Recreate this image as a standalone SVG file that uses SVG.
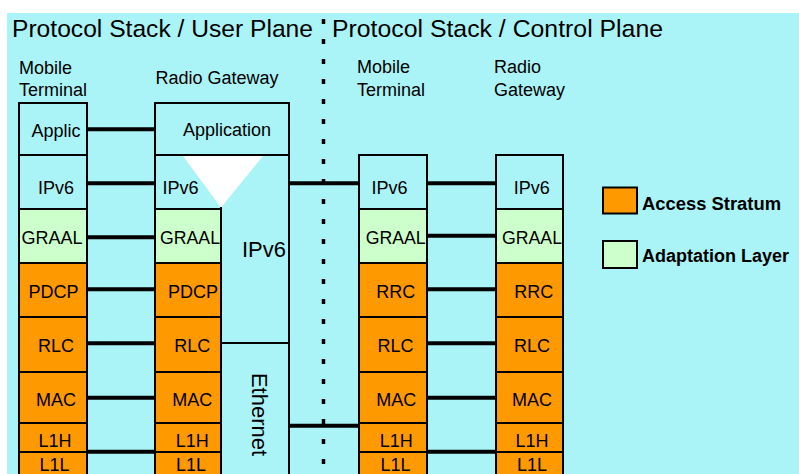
<svg xmlns="http://www.w3.org/2000/svg" width="799" height="474" viewBox="0 0 799 474">
  <style>
    text { font-family: "Liberation Sans", Arial, sans-serif; fill: #000; }
    .title { font-size: 24.6px; }
    .head { font-size: 18px; }
    .lbl { font-size: 18px; text-anchor: middle; }
    .big { font-size: 22px; }
    .leg { font-size: 18px; font-weight: bold; }
    .cy { fill: #AAF4F7; stroke: #000; stroke-width: 2; }
    .gr { fill: #CCFFCC; stroke: #000; stroke-width: 2; }
    .or { fill: #FF9900; stroke: #000; stroke-width: 2; }
    .edge { stroke: #000; stroke-width: 2; fill: none; }
    .link { stroke: #000; stroke-width: 4; }
  </style>

  <!-- backdrop -->
  <rect x="0" y="0" width="799" height="474" fill="#fff"/>
  <rect x="7" y="13" width="792" height="461" fill="#AAF4F7"/>

  <!-- headings -->
  <text class="title" x="12" y="37" textLength="301" lengthAdjust="spacingAndGlyphs">Protocol Stack / User Plane</text>
  <text class="title" x="332" y="37" textLength="331" lengthAdjust="spacingAndGlyphs">Protocol Stack / Control Plane</text>
  <text class="head" x="19" y="73.5">Mobile</text>
  <text class="head" x="19" y="95.5">Terminal</text>
  <text class="head" x="155.5" y="84">Radio Gateway</text>
  <text class="head" x="357" y="73">Mobile</text>
  <text class="head" x="357" y="95.5">Terminal</text>
  <text class="head" x="494" y="73">Radio</text>
  <text class="head" x="494" y="95.5">Gateway</text>

  <!-- plane divider -->
  <line x1="323.5" y1="19" x2="323.5" y2="474" stroke="#000" stroke-width="3.5" stroke-dasharray="5 15"/>

  <!-- user plane: mobile terminal -->
  <g id="up-mobile-terminal">
    <rect class="cy" x="19" y="103" width="68" height="52"/>
    <rect class="cy" x="19" y="155" width="68" height="54"/>
    <rect class="gr" x="19" y="209" width="68" height="54"/>
    <rect class="or" x="19" y="263" width="68" height="54"/>
    <rect class="or" x="19" y="317" width="68" height="55"/>
    <rect class="or" x="19" y="372" width="68" height="51"/>
    <rect class="or" x="19" y="423" width="68" height="29"/>
    <rect class="or" x="19" y="452" width="68" height="30"/>
    <text class="lbl" x="56" y="137">Applic</text>
    <text class="lbl" x="56" y="194">IPv6</text>
    <text class="lbl" x="52" y="244" textLength="61" lengthAdjust="spacingAndGlyphs">GRAAL</text>
    <text class="lbl" x="53.5" y="298">PDCP</text>
    <text class="lbl" x="56" y="351.5">RLC</text>
    <text class="lbl" x="56" y="406">MAC</text>
    <text class="lbl" x="55" y="446.5">L1H</text>
    <text class="lbl" x="54.5" y="470.5">L1L</text>
  </g>

  <!-- user plane: radio gateway -->
  <g id="up-radio-gateway">
    <rect class="cy" x="155" y="155" width="134" height="327"/>
    <rect class="cy" x="155" y="103" width="134" height="52"/>
    <rect class="gr" x="155" y="209" width="66" height="54"/>
    <rect class="or" x="155" y="263" width="66" height="54"/>
    <rect class="or" x="155" y="317" width="66" height="55"/>
    <rect class="or" x="155" y="372" width="66" height="51"/>
    <rect class="or" x="155" y="423" width="66" height="29"/>
    <rect class="or" x="155" y="452" width="66" height="30"/>
    <polygon points="183,156 263,156 221,207.5" fill="#fff"/>
    <line class="edge" x1="221" y1="207" x2="221" y2="474"/>
    <line class="edge" x1="221" y1="343" x2="289" y2="343"/>
    <text class="lbl" x="227" y="135.5">Application</text>
    <text class="lbl" x="180.5" y="194">IPv6</text>
    <text class="lbl" x="190" y="244" textLength="60" lengthAdjust="spacingAndGlyphs">GRAAL</text>
    <text class="lbl" x="193" y="298">PDCP</text>
    <text class="lbl" x="192.3" y="351.5">RLC</text>
    <text class="lbl" x="192.2" y="406">MAC</text>
    <text class="lbl" x="192.3" y="446.5">L1H</text>
    <text class="lbl" x="191" y="470.5">L1L</text>
    <text class="big" x="264" y="257" text-anchor="middle">IPv6</text>
    <text class="big" transform="translate(252 414.5) rotate(90)" text-anchor="middle">Ethernet</text>
  </g>

  <!-- control plane: mobile terminal -->
  <g id="cp-mobile-terminal">
    <rect class="cy" x="359" y="155" width="68" height="54"/>
    <rect class="gr" x="359" y="209" width="68" height="54"/>
    <rect class="or" x="359" y="263" width="68" height="54"/>
    <rect class="or" x="359" y="317" width="68" height="55"/>
    <rect class="or" x="359" y="372" width="68" height="51"/>
    <rect class="or" x="359" y="423" width="68" height="29"/>
    <rect class="or" x="359" y="452" width="68" height="30"/>
    <text class="lbl" x="389.5" y="194">IPv6</text>
    <text class="lbl" x="395.7" y="244" textLength="60" lengthAdjust="spacingAndGlyphs">GRAAL</text>
    <text class="lbl" x="395.7" y="298">RRC</text>
    <text class="lbl" x="395.5" y="351.5">RLC</text>
    <text class="lbl" x="396.2" y="406">MAC</text>
    <text class="lbl" x="396.3" y="446.5">L1H</text>
    <text class="lbl" x="395.5" y="470.5">L1L</text>
  </g>

  <!-- control plane: radio gateway -->
  <g id="cp-radio-gateway">
    <rect class="cy" x="496" y="155" width="67" height="54"/>
    <rect class="gr" x="496" y="209" width="67" height="54"/>
    <rect class="or" x="496" y="263" width="67" height="54"/>
    <rect class="or" x="496" y="317" width="67" height="55"/>
    <rect class="or" x="496" y="372" width="67" height="51"/>
    <rect class="or" x="496" y="423" width="67" height="29"/>
    <rect class="or" x="496" y="452" width="67" height="30"/>
    <text class="lbl" x="531.8" y="194">IPv6</text>
    <text class="lbl" x="532" y="244" textLength="60" lengthAdjust="spacingAndGlyphs">GRAAL</text>
    <text class="lbl" x="533.8" y="298">RRC</text>
    <text class="lbl" x="532" y="351.5">RLC</text>
    <text class="lbl" x="532" y="406">MAC</text>
    <text class="lbl" x="532" y="446.5">L1H</text>
    <text class="lbl" x="532" y="470.5">L1L</text>
  </g>

  <!-- legend -->
  <g id="legend-access-stratum">
    <rect class="or" x="603" y="187.5" width="34" height="26"/>
    <text class="leg" x="642" y="209.5" textLength="139" lengthAdjust="spacingAndGlyphs">Access Stratum</text>
  </g>
  <g id="legend-adaptation-layer">
    <rect class="gr" x="603" y="241" width="34" height="27"/>
    <text class="leg" x="642" y="261.5" textLength="147" lengthAdjust="spacingAndGlyphs">Adaptation Layer</text>
  </g>

  <!-- peer links -->
  <g id="connectors">
    <line class="link" x1="86" y1="129.3" x2="156" y2="129.3"/>
    <line class="link" x1="86" y1="183.3" x2="156" y2="183.3"/>
    <line class="link" x1="86" y1="237.3" x2="156" y2="237.3"/>
    <line class="link" x1="86" y1="289.3" x2="156" y2="289.3"/>
    <line class="link" x1="86" y1="343.3" x2="156" y2="343.3"/>
    <line class="link" x1="86" y1="397.7" x2="156" y2="397.7"/>
    <line class="link" x1="86" y1="451.7" x2="156" y2="451.7"/>

    <line class="link" x1="288" y1="183.3" x2="360" y2="183.3"/>
    <line class="link" x1="288" y1="425.7" x2="360" y2="425.7"/>

    <line class="link" x1="426" y1="183.3" x2="497" y2="183.3"/>
    <line class="link" x1="426" y1="235.7" x2="497" y2="235.7"/>
    <line class="link" x1="426" y1="289.3" x2="497" y2="289.3"/>
    <line class="link" x1="426" y1="343.3" x2="497" y2="343.3"/>
    <line class="link" x1="426" y1="397.7" x2="497" y2="397.7"/>
    <line class="link" x1="426" y1="451.7" x2="497" y2="451.7"/>
  </g>
</svg>
